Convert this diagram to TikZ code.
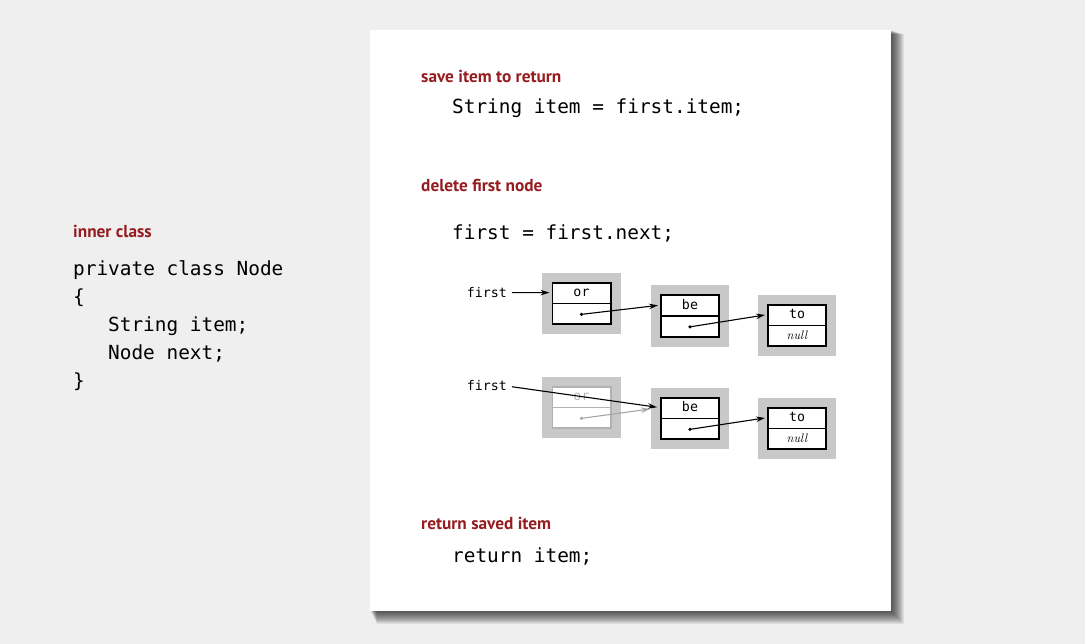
\documentclass[tikz,border=0pt]{standalone}
\usepackage{fontspec}
\setsansfont{PT Sans}
\setmonofont{DejaVu Sans Mono}
\usetikzlibrary{calc,arrows.meta,shapes.multipart}
\definecolor{bookred}{RGB}{150,28,32}
\definecolor{boxgray}{RGB}{200,200,200}
\definecolor{pagegray}{RGB}{239,239,239}
\newcommand{\cellstrut}{\rule[-5.75pt]{0pt}{19pt}}
\newcommand{\nullref}{{\rmfamily\itshape\fontsize{12.5}{12.5}\selectfont null}}
\newcommand{\listnode}[5][black]{
  \node[listnode, draw=#1] (#2) at (#3) {\cellstrut#4\nodepart{two}\cellstrut#5};
  \draw[#1, line width=1.8pt] (#2.west) -- (#2.east);
}
\newcommand{\nextlink}[3][black]{
  \coordinate (#2n) at ($(#2.center)!0.5!(#2.south)$);
  \coordinate (#3w) at ($(#3.north west)!0.25!(#3.south west)$);
  \fill[#1] (#2n) circle (1.8);
  \draw[link, #1, shorten >=2pt] (#2n) -- (#3w);
}
\tikzset{
  heading/.style={anchor=base west, inner sep=0pt, text=bookred,
    font=\sffamily\bfseries\fontsize{17.3}{17.3}\selectfont},
  code/.style={anchor=base west, inner sep=0pt,
    font=\ttfamily\fontsize{19.4}{19.4}\selectfont},
  label/.style={anchor=base east, inner sep=0pt,
    font=\ttfamily\fontsize{13.3}{13.3}\selectfont},
  listnode/.style={rectangle split, rectangle split parts=2, draw,
    line width=1.8pt, fill=white, minimum width=58.2pt, inner xsep=0pt,
    inner ysep=0pt, font=\ttfamily\fontsize{13.3}{13.3}\selectfont,
    preaction={draw=boxgray, line width=20pt}},
  link/.style={-{Stealth[length=9pt,width=5.5pt]}, line width=1.1pt},
}
\begin{document}
\begin{tikzpicture}[x=1pt,y=-1pt]
\fill[pagegray] (0,0) rectangle (1085,644);
\useasboundingbox (0,0) rectangle (1085,644);
% panel with its shadow
\foreach \i in {1,...,13}
  \fill[black, opacity=0.07] (370+\i/2,30+\i/3) rectangle (891+\i,611+\i);
\fill[white] (370,30) rectangle (891,611);

% inner class
\node[heading] (innerhead) at (73,238) {inner class};
\node[code] (cls) at (73,276) {private class Node};
\node[code] (open) at (73,304) {\{};
\node[code] (fitem) at (108,332) {String item;};
\node[code] (fnext) at (108,360) {Node next;};
\node[code] (close) at (73,388) {\}};

% steps
\node[heading] (savehead) at (421,83) {save item to return};
\node[code] (save) at (452,114) {String item = first.item;};
\node[heading] (delhead) at (421,192) {delete first node};
\node[code] (del) at (452,240) {first = first.next;};
\node[heading] (rethead) at (421,529.5) {return saved item};
\node[code] (ret) at (452,562) {return item;};

% before
\listnode{or1}{581.5,303.5}{or}{}
\listnode{be1}{690,316}{be}{}
\listnode{to1}{797,325.5}{to}{\nullref}
\node[label] (first1) at (507,297.5) {first};
\draw[link, shorten <=5pt, shorten >=2pt] (first1.east) -- ($(or1.north west)!0.25!(or1.south west)$);
\nextlink{or1}{be1}
\nextlink{be1}{to1}

% after
\listnode[black!30]{or2}{581.5,407.5}{\textcolor{black!28}{or}}{}
\listnode{be2}{690,418.5}{be}{}
\listnode{to2}{797,428.5}{to}{\nullref}
\node[label] (first2) at (507,391) {first};
\coordinate (or2n) at ($(or2.center)!0.5!(or2.south)$);
\fill[black!35] (or2n) circle (1.8);
\draw[link, black!35, shorten >=10pt] (or2n) -- ($(be2.north west)!0.25!(be2.south west)$);
\draw[link, shorten <=5pt, shorten >=3pt] (first2.east) -- ($(be2.north west)!0.25!(be2.south west)$);
\nextlink{be2}{to2}
\end{tikzpicture}
\end{document}
